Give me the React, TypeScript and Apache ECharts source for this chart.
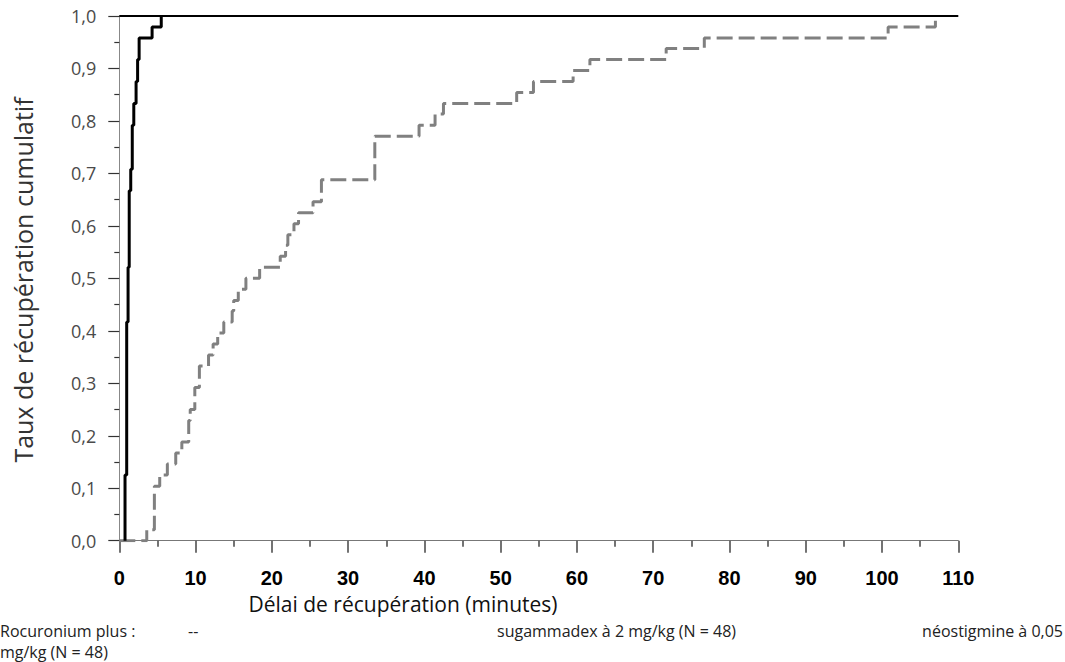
import React, { useEffect, useRef } from "react";
import * as echarts from "echarts";

// Sugammadex (black, solid) — time in minutes, cumulative recovery rate
const sugTimes = [0.75, 0.97, 1.15, 1.3, 1.5, 1.7, 1.9, 2.2, 2.4, 2.6, 4.3, 5.5];
const sugValues = [0.125, 0.417, 0.521, 0.667, 0.708, 0.792, 0.833, 0.875, 0.917, 0.958, 0.979, 1.0];

// Neostigmine (grey, dashed)
const neoTimes = [0, 3.6, 4.6, 5.3, 6.3, 7.4, 8.2, 9.1, 9.3, 9.9, 10.5, 11.7, 12.3, 12.9, 13.7, 14.8, 15.0, 15.6, 16.6, 18.4, 21.1, 21.8, 22.1, 22.9, 23.5, 25.4, 26.5, 33.5, 39.3, 41.4, 42.5, 52.1, 54.3, 59.5, 61.7, 71.7, 76.7, 100.8, 107];
const neoValues = [0, 0.021, 0.104, 0.125, 0.146, 0.167, 0.188, 0.229, 0.25, 0.292, 0.333, 0.354, 0.375, 0.396, 0.417, 0.438, 0.458, 0.479, 0.5, 0.521, 0.542, 0.563, 0.583, 0.604, 0.625, 0.646, 0.688, 0.771, 0.792, 0.813, 0.833, 0.854, 0.875, 0.896, 0.917, 0.938, 0.958, 0.979, 1.0];

const yTitle = "Taux de récupération cumulatif";
const xTitle = "Délai de récupération (minutes)";
const caption1a = "Rocuronium plus :";
const caption1b = "--";
const caption2 = "sugammadex à 2 mg/kg (N = 48)";
const caption3 = "néostigmine à 0,05";
const caption4 = "mg/kg (N = 48)";

export default function App() {
  const ref = useRef<HTMLDivElement>(null);
  useEffect(() => {
    if (!ref.current) return;
    const chart = echarts.init(ref.current, null, { renderer: "svg" });
    const sugData = [[sugTimes[0], 0], ...sugTimes.map((t, i) => [t, sugValues[i]])];
    const neoData = neoTimes.map((t, i) => [t, neoValues[i]]);
    const txtFont = "'Open Sans', sans-serif";
    const cap = (text: string, x: number, y: number, align = "left") => ({
      type: "text",
      x,
      y,
      style: { text, fill: "#222", fontSize: 16, fontFamily: txtFont, textAlign: align, textVerticalAlign: "middle" },
    });
    chart.setOption({
      animation: false,
      backgroundColor: "#ffffff",
      grid: { left: 119.3, right: 106.7, top: 16, bottom: 121.3, containLabel: false },
      xAxis: {
        type: "value",
        min: 0,
        max: 110,
        interval: 10,
        axisLine: { show: true, onZero: false, lineStyle: { color: "#777", width: 1 } },
        axisTick: { show: true, length: 12, lineStyle: { color: "#444", width: 1.5 } },
        minorTick: { show: true, splitNumber: 2, length: 6, lineStyle: { color: "#444", width: 1.5 } },
        splitLine: { show: false },
        axisLabel: {
          margin: 27,
          color: "#000",
          fontWeight: "bold",
          fontSize: 20,
          fontFamily: "'Liberation Sans', Arial, sans-serif",
        },
      },
      yAxis: {
        type: "value",
        min: 0,
        max: 1,
        interval: 0.1,
        axisLine: { show: true, lineStyle: { color: "#888", width: 1 } },
        axisTick: { show: true, length: 11, lineStyle: { color: "#333", width: 1.2 } },
        minorTick: { show: true, splitNumber: 2, length: 5, lineStyle: { color: "#333", width: 1.2 } },
        splitLine: { show: false },
        axisLabel: {
          margin: 23,
          color: "#4a4a4a",
          fontSize: 18,
          fontFamily: txtFont,
          formatter: (v: number) => v.toFixed(1).replace(".", ","),
        },
      },
      series: [
        {
          type: "line",
          name: "sugammadex",
          data: sugData,
          step: "end",
          symbol: "none",
          lineStyle: { color: "#000", width: 3 },
          z: 3,
          markLine: {
            silent: true,
            symbol: "none",
            label: { show: false },
            lineStyle: { color: "#000", width: 1.8, type: "solid" },
            data: [{ yAxis: 1 }],
          },
        },
        {
          type: "line",
          name: "néostigmine",
          data: neoData,
          step: "end",
          symbol: "none",
          lineStyle: { color: "#808080", width: 3, type: [16, 6] },
          z: 2,
        },
      ],
      graphic: [
        {
          type: "text",
          x: 23,
          y: 280,
          rotation: Math.PI / 2,
          style: {
            text: yTitle,
            fill: "#333",
            fontSize: 25,
            fontFamily: txtFont,
            textAlign: "center",
            textVerticalAlign: "middle",
          },
        },
        {
          type: "text",
          x: 403,
          y: 604,
          style: {
            text: xTitle,
            fill: "#111",
            fontSize: 21,
            fontFamily: txtFont,
            textAlign: "center",
            textVerticalAlign: "middle",
          },
        },
        cap(caption1a, 0, 631),
        cap(caption1b, 188, 631),
        cap(caption2, 497, 631),
        cap(caption3, 1063, 631, "right"),
        cap(caption4, 0, 652),
      ],
    });
    return () => chart.dispose();
  }, []);
  return (
    <div
      ref={ref}
      style={{ position: "fixed", left: 0, top: 0, width: 1065, height: 662, background: "#fff" }}
    />
  );
}
